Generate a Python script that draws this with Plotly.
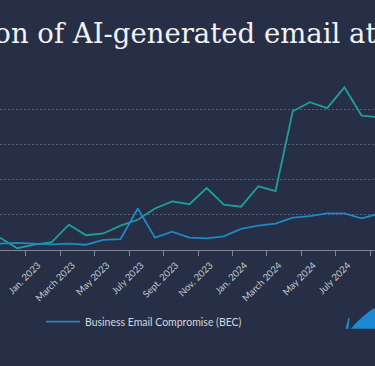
import plotly.graph_objects as go

# ---- data ----
months = ["Nov. 2022", "Dec. 2022", "Jan. 2023", "Feb. 2023", "March 2023", "April 2023",
          "May 2023", "June 2023", "July 2023", "Aug. 2023", "Sept. 2023", "Oct. 2023",
          "Nov. 2023", "Dec. 2023", "Jan. 2024", "Feb. 2024", "March 2024", "April 2024",
          "May 2024", "June 2024", "July 2024", "Aug. 2024", "Sept. 2024"]
spam = [3.5, 0.5, 1.5, 2.2, 7.2, 4.2, 4.7, 6.9, 8.6, 11.8, 13.8, 13.0,
        17.6, 12.9, 12.3, 18.1, 16.7, 39.4, 42.0, 40.3, 46.2, 38.2, 37.7]
bec = [1.8, 2.0, 1.8, 1.6, 1.8, 1.5, 2.9, 3.1, 11.8, 3.5, 5.2, 3.5,
       3.3, 3.9, 6.0, 6.9, 7.5, 9.2, 9.6, 10.4, 10.4, 9.0, 10.3]
label_every = 2
title_text = "Proportion of AI-generated email attacks"

# ---- style ----
W, H = 375, 366
BG = "#262f45"
TEAL = "#1f9e9c"
BLUE = "#1f88c6"
TXT = "#c3c8d1"
AXIS = "#7d8596"
GRID = "#566075"
ML, MR, MT, MB = 0, 0, 74.3, 115.7
month_px = 17.22
xr = [0, (W - ML - MR) / month_px]
plot_h = H - MT - MB

def px_to_paper(px, py):
    return (px - ML) / (W - ML - MR), (H - MB - py) / plot_h

x = list(range(len(months)))
fig = go.Figure()
fig.add_trace(go.Scatter(x=x, y=spam, mode="lines", name="Spam",
                         line=dict(color=TEAL, width=1.8), showlegend=False))
fig.add_trace(go.Scatter(x=x, y=bec, mode="lines", name="Business Email Compromise (BEC)",
                         line=dict(color=BLUE, width=1.8)))

lab_idx = [i for i in range(len(months)) if i % label_every == 0]
main_vals = [i - 0.5 for i in lab_idx if i - 0.5 >= xr[0]]
main_text = [months[i] for i in lab_idx if i - 0.5 >= xr[0]]
first_vals = [i for i in lab_idx if i - 0.5 < xr[0]]
first_text = [months[i] for i in first_vals]

shift = 12
tickfont = dict(family="Lato, sans-serif", size=9.5, color=TXT)
fig.update_layout(
    width=W, height=H,
    paper_bgcolor=BG, plot_bgcolor=BG,
    margin=dict(l=ML, r=MR, t=MT, b=MB, pad=0),
    xaxis=dict(range=xr, tickmode="array", tickvals=main_vals, ticktext=main_text,
               tickangle=-45, ticklabelshift=shift, tickfont=tickfont,
               ticks="outside", ticklen=5, tickcolor=AXIS, tickwidth=1,
               showline=True, linecolor=AXIS, linewidth=1, showgrid=False,
               zeroline=False, automargin=False),
    xaxis2=dict(range=xr, overlaying="x", anchor="y", side="bottom",
                tickmode="array", tickvals=first_vals, ticktext=first_text,
                tickangle=-45, ticklabelshift=int(round(shift - month_px / 2)), tickfont=tickfont,
                ticks="", showline=False, showgrid=False, zeroline=False, automargin=False),
    yaxis=dict(range=[0, 50], dtick=10, showticklabels=False, showline=False,
               zeroline=False, showgrid=True, gridcolor=GRID, gridwidth=1,
               griddash="2px,2px", automargin=False),
    legend=dict(orientation="h", x=px_to_paper(41, 0)[0], xanchor="left",
                y=px_to_paper(0, 322)[1], yanchor="middle", itemwidth=34,
                font=dict(family="Lato, sans-serif", size=10.5, color="#d3d7de"),
                bgcolor="rgba(0,0,0,0)"),
    showlegend=True,
)
# helper trace so the second axis (first label) is drawn
fig.add_trace(go.Scatter(x=[x[0]], y=[None], xaxis="x2", showlegend=False, hoverinfo="skip"))

tsize = 27.5
tx, ty = px_to_paper(-4 - 91 * tsize / 21, 33)
fig.add_annotation(text=title_text, xref="paper", yref="paper", x=tx, y=ty,
                   xanchor="left", yanchor="middle", showarrow=False,
                   font=dict(family="DejaVu Serif", size=tsize, color="#f1f2f4"))

# logo (decorative fin)
def pp(px, py):
    a, b = px_to_paper(px, py)
    return f"{a:.4f},{b:.4f}"
fin = (f"M {pp(350.7,329)} Q {pp(360,318)} {pp(373,309)} L {pp(375,309)} "
       f"L {pp(375,329)} Z")
sliver = f"M {pp(345.5,329)} L {pp(348.5,318)} L {pp(349.5,318.5)} L {pp(348.5,329)} Z"
for p in (fin, sliver):
    fig.add_shape(type="path", path=p, xref="paper", yref="paper",
                  fillcolor="#1a8ad4", line=dict(width=0), layer="above")

fig.write_html("out.html", config={"displayModeBar": False},
               post_script="document.body.style.margin='0';"
                           "document.body.style.overflow='hidden';"
                           "document.body.style.background='" + BG + "';")
